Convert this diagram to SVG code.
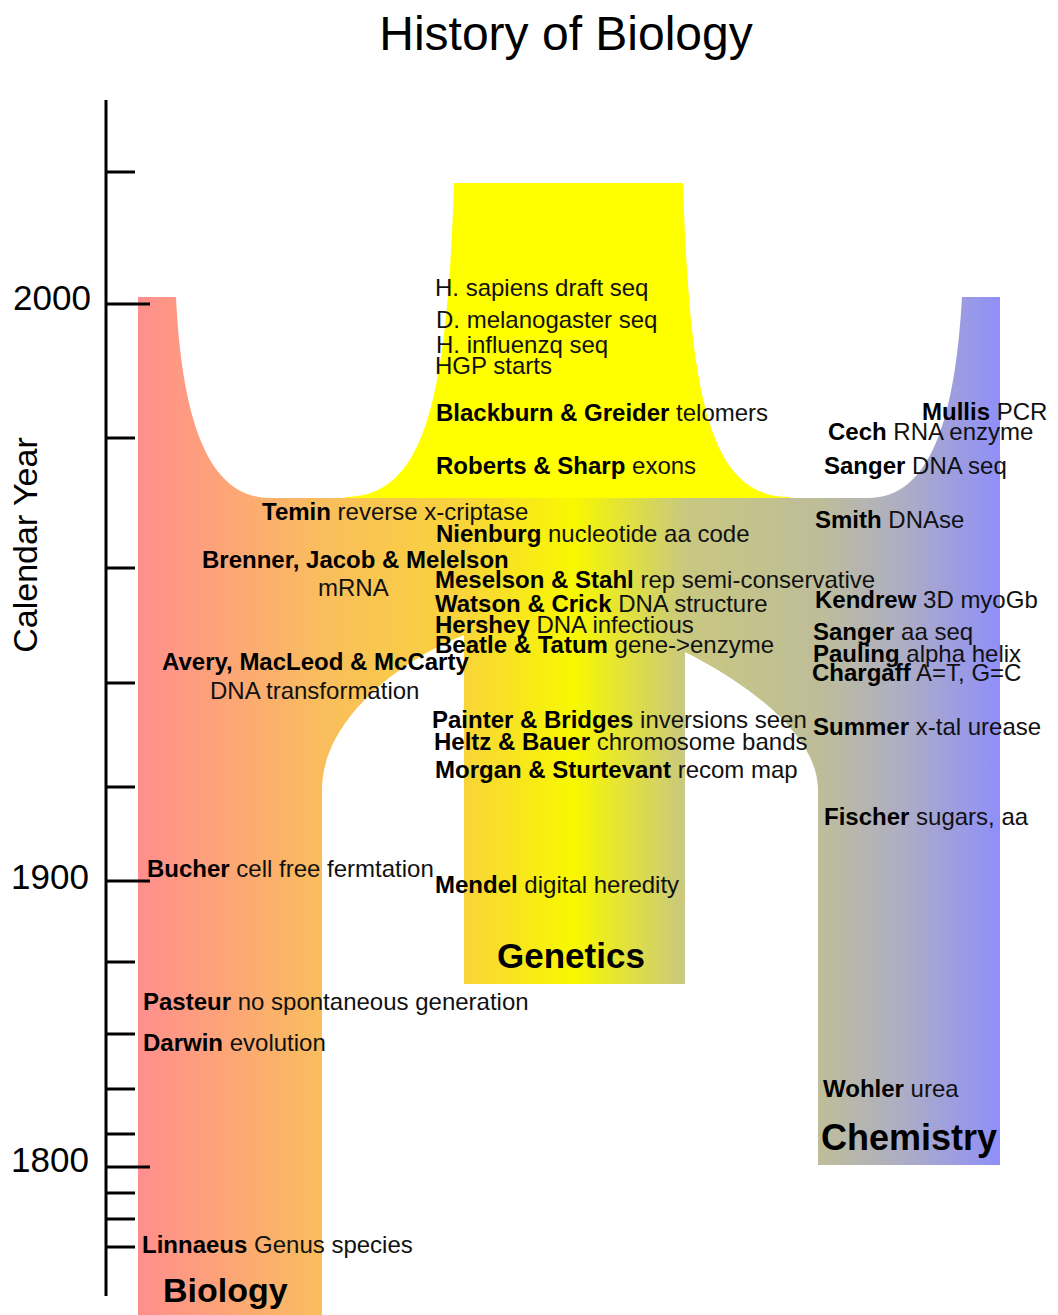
<svg xmlns="http://www.w3.org/2000/svg" width="1058" height="1315" viewBox="0 0 1058 1315">
<style>
text{font-family:"Liberation Sans",Arial,Helvetica,sans-serif;fill:#000}
.ev{font-size:24px}
.b{font-weight:bold}
.r{fill:#111}
.yr{font-size:35px}
.col{font-size:34px;font-weight:bold}
.tick{stroke:#000;stroke-width:3;fill:none}
</style>
<defs>
<linearGradient id="grad" gradientUnits="userSpaceOnUse" x1="138" y1="0" x2="1000" y2="0">
<stop offset="0" stop-color="#ff8e8e"/>
<stop offset="0.211" stop-color="#f9bd5e"/>
<stop offset="0.378" stop-color="#f9d43a"/>
<stop offset="0.505" stop-color="#f8f800"/>
<stop offset="0.635" stop-color="#c9c880"/>
<stop offset="0.789" stop-color="#bebd99"/>
<stop offset="0.885" stop-color="#aeaec4"/>
<stop offset="1" stop-color="#8f8ff8"/>
</linearGradient>
</defs>
<rect width="1058" height="1315" fill="#fff"/>

<g id="title"><text x="566" y="50" font-size="48" text-anchor="middle">History of Biology</text></g>

<g id="genetics-top">
<path d="M454,183 L683,183 C690,400 710,497 790,497 L790,500 L345,500 L345,497 C425,497 447,400 454,183 Z" fill="#ffff00"/>
</g>
<g id="streams">
<path d="M138,297 L176,297 C182,420 208,498 270,498 L868,498 C930,498 955,420 962,297 L1000,297 L1000,1165 L818,1165 L818,790 C818,740 760,690 685,652 L685,984 L464,984 L464,635 C400,660 322,720 322,790 L322,1315 L138,1315 Z" fill="url(#grad)"/>
</g>

<g id="axis">
<line class="tick" x1="106" y1="100" x2="106" y2="1296"/>
<path class="tick" d="M106,172H135M106,304H150M106,438H135M106,568H135M106,683H135M106,787H135M106,881H150M106,962H135M106,1034H135M106,1089H135M106,1134H135M106,1167H150M106,1193H135M106,1219H135M106,1247H135"/>
<text class="yr" x="13" y="310">2000</text>
<text class="yr" x="11" y="889">1900</text>
<text class="yr" x="11" y="1172">1800</text>
<text transform="translate(37,545) rotate(-90)" font-size="34" text-anchor="middle">Calendar Year</text>
</g>

<g id="column-labels">
<text class="col" x="163" y="1302">Biology</text>
<text class="col" x="497" y="968" style="font-size:35px">Genetics</text>
<text class="col" x="821" y="1150" style="font-size:36px">Chemistry</text>
</g>

<g id="events" class="ev">
<text class="ev" x="435" y="296"><tspan class="r">H. sapiens draft seq</tspan></text>
<text class="ev" x="436" y="328"><tspan class="r">D. melanogaster seq</tspan></text>
<text class="ev" x="436" y="353"><tspan class="r">H. influenzq seq</tspan></text>
<text class="ev" x="435" y="374"><tspan class="r">HGP starts</tspan></text>
<text class="ev" x="436" y="421"><tspan class="b">Blackburn &amp; Greider</tspan><tspan class="r"> telomers</tspan></text>
<text class="ev" x="436" y="474"><tspan class="b">Roberts &amp; Sharp</tspan><tspan class="r"> exons</tspan></text>
<text class="ev" x="262" y="520"><tspan class="b">Temin</tspan><tspan class="r"> reverse x-criptase</tspan></text>
<text class="ev" x="436" y="542"><tspan class="b">Nienburg</tspan><tspan class="r"> nucleotide aa code</tspan></text>
<text class="ev" x="202" y="568"><tspan class="b">Brenner, Jacob &amp; Melelson</tspan></text>
<text class="ev" x="318" y="596"><tspan class="r">mRNA</tspan></text>
<text class="ev" x="435" y="588"><tspan class="b">Meselson &amp; Stahl</tspan><tspan class="r"> rep semi-conservative</tspan></text>
<text class="ev" x="435" y="612"><tspan class="b">Watson &amp; Crick</tspan><tspan class="r"> DNA structure</tspan></text>
<text class="ev" x="435" y="633"><tspan class="b">Hershey</tspan><tspan class="r"> DNA infectious</tspan></text>
<text class="ev" x="435" y="653"><tspan class="b">Beatle &amp; Tatum</tspan><tspan class="r"> gene-&gt;enzyme</tspan></text>
<text class="ev" x="162" y="670"><tspan class="b">Avery, MacLeod &amp; McCarty</tspan></text>
<text class="ev" x="210" y="699"><tspan class="r">DNA transformation</tspan></text>
<text class="ev" x="432" y="728"><tspan class="b">Painter &amp; Bridges</tspan><tspan class="r"> inversions seen</tspan></text>
<text class="ev" x="434" y="750"><tspan class="b">Heltz &amp; Bauer</tspan><tspan class="r"> chromosome bands</tspan></text>
<text class="ev" x="435" y="778"><tspan class="b">Morgan &amp; Sturtevant</tspan><tspan class="r"> recom map</tspan></text>
<text class="ev" x="147" y="877"><tspan class="b">Bucher</tspan><tspan class="r"> cell free fermtation</tspan></text>
<text class="ev" x="435" y="893"><tspan class="b">Mendel</tspan><tspan class="r"> digital heredity</tspan></text>
<text class="ev" x="143" y="1010"><tspan class="b">Pasteur</tspan><tspan class="r"> no spontaneous generation</tspan></text>
<text class="ev" x="143" y="1051"><tspan class="b">Darwin</tspan><tspan class="r"> evolution</tspan></text>
<text class="ev" x="142" y="1253"><tspan class="b">Linnaeus</tspan><tspan class="r"> Genus species</tspan></text>
<text class="ev" x="922" y="420"><tspan class="b">Mullis</tspan><tspan class="r"> PCR</tspan></text>
<text class="ev" x="828" y="440"><tspan class="b">Cech</tspan><tspan class="r"> RNA enzyme</tspan></text>
<text class="ev" x="824" y="474"><tspan class="b">Sanger</tspan><tspan class="r"> DNA seq</tspan></text>
<text class="ev" x="815" y="528"><tspan class="b">Smith</tspan><tspan class="r"> DNAse</tspan></text>
<text class="ev" x="815" y="608"><tspan class="b">Kendrew</tspan><tspan class="r"> 3D myoGb</tspan></text>
<text class="ev" x="813" y="640"><tspan class="b">Sanger</tspan><tspan class="r"> aa seq</tspan></text>
<text class="ev" x="813" y="662"><tspan class="b">Pauling</tspan><tspan class="r"> alpha helix</tspan></text>
<text class="ev" x="812" y="681"><tspan class="b">Chargaff</tspan><tspan class="r"> A=T, G=C</tspan></text>
<text class="ev" x="813" y="735"><tspan class="b">Summer</tspan><tspan class="r"> x-tal urease</tspan></text>
<text class="ev" x="824" y="825"><tspan class="b">Fischer</tspan><tspan class="r"> sugars, aa</tspan></text>
<text class="ev" x="823" y="1097"><tspan class="b">Wohler</tspan><tspan class="r"> urea</tspan></text>
</g>
</svg>
